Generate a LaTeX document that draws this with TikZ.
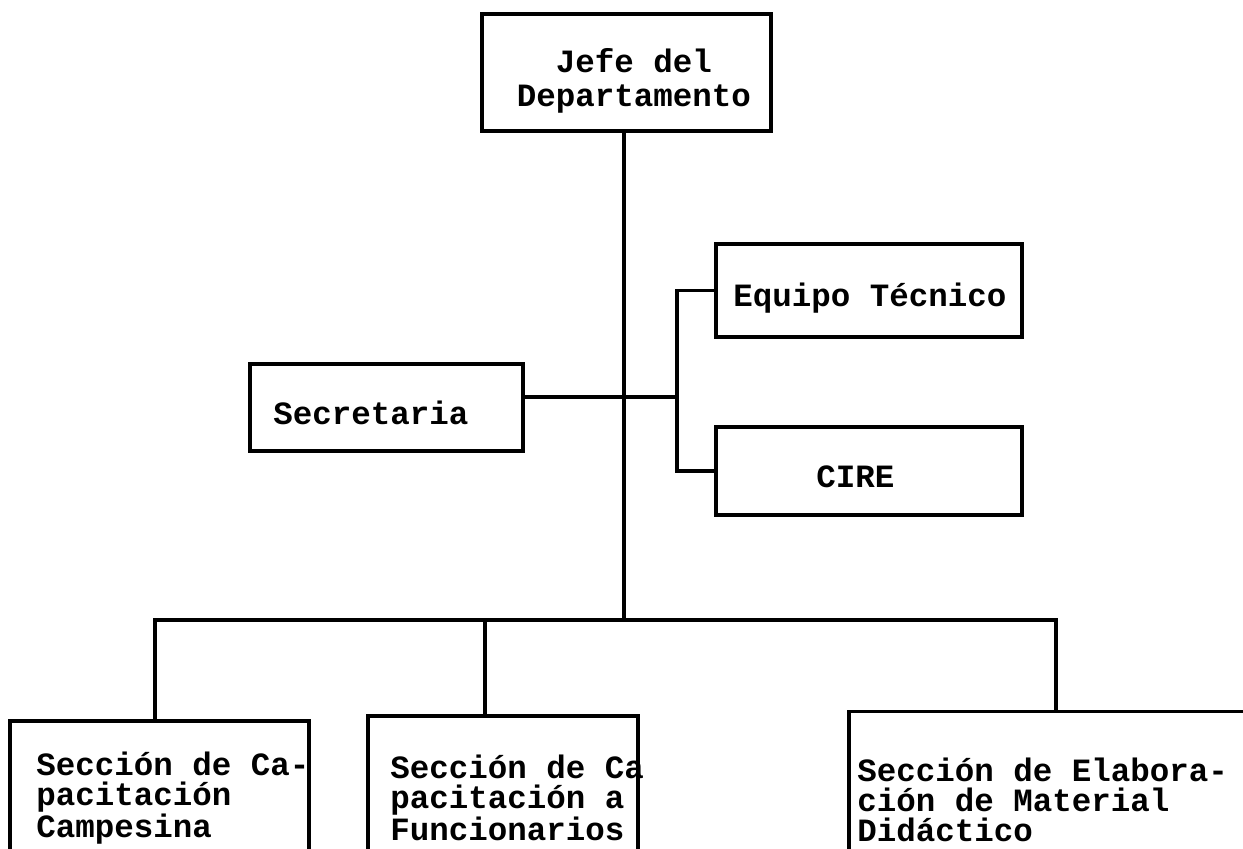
\documentclass[tikz,border=0pt]{standalone}
\usepackage{fontspec}
\setmonofont{Liberation Mono}
\begin{document}
\begin{tikzpicture}[x=0.5pt,y=-0.5pt]
\tikzset{
  orgbox/.style={draw, line width=1.8pt, inner sep=0pt, outer sep=0pt},
  lbl/.style={font=\ttfamily\bfseries\fontsize{16.25}{15}\selectfont, inner sep=0pt, align=left},
  conn/.style={line width=1.8pt, line cap=rect},
}
\useasboundingbox (0,0) rectangle (1243,848);
\clip (0,0) rectangle (1243,848);
\fill[white] (0,0) rectangle (1243,848);

% boxes
\node[orgbox, minimum width=144.5pt, minimum height=58.5pt] (jefe) at (626.5,72.5) {};
\node[orgbox, minimum width=136.5pt, minimum height=43.5pt] (sec) at (386.5,407.5) {};
\node[orgbox, minimum width=153pt, minimum height=46.5pt] (equipo) at (869,290.5) {};
\node[orgbox, minimum width=153pt, minimum height=44pt] (cire) at (869,471) {};
\node[orgbox, minimum width=149.5pt, minimum height=79.5pt] (box1) at (159.5,800.5) {};
\node[orgbox, minimum width=135pt, minimum height=82pt] (box2) at (503,798) {};
\node[orgbox, minimum width=210.5pt, minimum height=84pt] (box3) at (1059.5,795.5) {};

% texts
\node[lbl, align=center, font=\ttfamily\bfseries\fontsize{16.25}{17}\selectfont] (tjefe) at (634,81) {Jefe del\\Departamento};
\node[lbl, anchor=west] (tsec) at (273,413) {Secretaria};
\node[lbl] (tequipo) at (870,298) {Equipo Técnico};
\node[lbl, anchor=west] (tcire) at (816,477) {CIRE};
\node[lbl, anchor=west] (t1) at (36,798) {Sección de Ca-\\pacitación\\Campesina};
\node[lbl, anchor=west] (t2) at (390,798) {Sección de Ca\\pacitación a\\Funcionarios};
\node[lbl, anchor=west] (t3) at (857,800) {Sección de Elabora-\\ción de Material\\Didáctico};

% connectors
\coordinate (hub) at (624,397);
\coordinate (brk) at (677,397);
\coordinate (bus) at (624,620);
\coordinate (d1) at (155,620);
\coordinate (d2) at (485,620);
\coordinate (d3) at (1056,620);

\draw[conn] (jefe.south -| hub) -- (bus);
\draw[conn] (sec.east |- hub) -- (brk);
\draw[conn] (equipo.west) -- (equipo.west -| brk) -- (cire.west -| brk) -- (cire.west);
\draw[conn] (d1) -- (d3);
\draw[conn] (d1) -- (d1 |- box1.north);
\draw[conn] (d2) -- (d2 |- box2.north);
\draw[conn] (d3) -- (d3 |- box3.north);
\end{tikzpicture}
\end{document}
